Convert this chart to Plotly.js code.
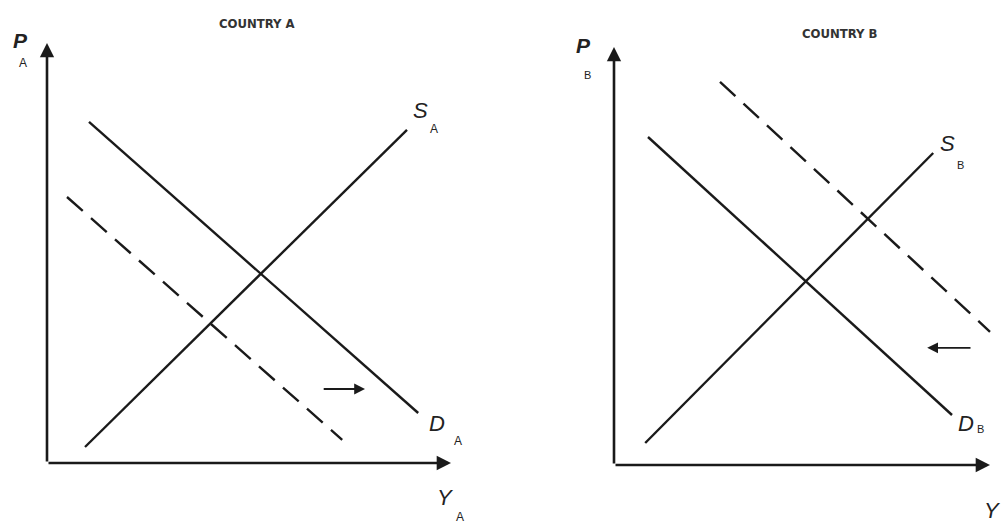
<!DOCTYPE html>
<html>
<head>
<meta charset="utf-8">
<script src="https://cdn.plot.ly/plotly-3.0.1.min.js"></script>
<style>html,body{margin:0;padding:0;background:#fff;}#chart{width:1003px;height:527px;}</style>
</head>
<body>
<div id="chart"></div>
<script>
// Country A (units: quantity Y_A, price P_A)
const supplyA_x = [0.95, 9.0];
const supplyA_y = [0.4, 8.33];
const demandA_x = [1.05, 9.28];
const demandA_y = [8.53, 1.25];
const demandA2_x = [0.5, 7.38];
const demandA2_y = [6.65, 0.58];
const shiftA_x = [6.88, 7.95];
const shiftA_y = [1.85, 1.85];
const axisA_end = [10.1, 10.5];

// Country B
const supplyB_x = [0.78, 7.98];
const supplyB_y = [0.55, 7.8];
const demandB_x = [0.85, 8.45];
const demandB_y = [8.2, 1.25];
const demandB2_x = [2.65, 9.4];
const demandB2_y = [9.58, 3.33];
const shiftB_x = [8.95, 7.83];
const shiftB_y = [2.93, 2.93];
const axisB_end = [9.4, 10.45];

const titles = ["COUNTRY A", "COUNTRY B"];

const lineCol = '#1a1a1a';
function seg(x, y, xa, ya, dash) {
  return {x: x, y: y, xaxis: xa, yaxis: ya, mode: 'lines', type: 'scatter',
    line: {color: lineCol, width: 2.4, dash: dash || 'solid'}, hoverinfo: 'skip', showlegend: false};
}
const data = [
  seg(supplyA_x, supplyA_y, 'x', 'y'),
  seg(demandA_x, demandA_y, 'x', 'y'),
  seg(demandA2_x, demandA2_y, 'x', 'y', '21px,11px'),
  seg(supplyB_x, supplyB_y, 'x2', 'y2'),
  seg(demandB_x, demandB_y, 'x2', 'y2'),
  seg(demandB2_x, demandB2_y, 'x2', 'y2', '21px,11px')
];

function arrow(xr, yr, x0, y0, x1, y1, w, size) {
  return {xref: xr, yref: yr, axref: xr, ayref: yr, x: x1, y: y1, ax: x0, ay: y0,
    showarrow: true, arrowhead: 2, arrowsize: size, arrowwidth: w, arrowcolor: lineCol, text: ''};
}
function px(x, y, text, size, opts) {
  return Object.assign({xref: 'paper', yref: 'paper', x: x / 1003, y: 1 - y / 527,
    text: text, showarrow: false, xanchor: 'center', yanchor: 'middle',
    font: {family: 'Liberation Sans, Arial, sans-serif', size: size, color: '#222'}}, opts || {});
}
const it = (t) => '<i>' + t + '</i>';
const titleFont = {family: 'Liberation Sans Narrow, DejaVu Sans Condensed, sans-serif', size: 13, color: '#333', weight: 600};
const annotations = [
  // axes
  arrow('x', 'y', 0, 0, axisA_end[0], 0, 2.6, 1.1),
  arrow('x', 'y', 0, 0, 0, axisA_end[1], 2.6, 1.1),
  arrow('x2', 'y2', 0, 0, axisB_end[0], 0, 2.6, 1.1),
  arrow('x2', 'y2', 0, 0, 0, axisB_end[1], 2.6, 1.1),
  // shift arrows
  arrow('x', 'y', shiftA_x[0], shiftA_y[0], shiftA_x[1], shiftA_y[1], 1.8, 1.2),
  arrow('x2', 'y2', shiftB_x[0], shiftB_y[0], shiftB_x[1], shiftB_y[1], 1.8, 1.2),
  // titles
  px(257, 24, titles[0], 13, {font: titleFont}),
  px(840, 33, titles[1], 13, {font: titleFont}),
  // Country A labels
  px(20, 40, '<b><i>P</i></b>', 21),
  px(23, 63, 'A', 12),
  px(420, 110, it('S'), 22),
  px(434, 129, 'A', 12),
  px(437, 423, it('D'), 22),
  px(458, 441, 'A', 12),
  px(445, 497, it('Y'), 22),
  px(460, 517, 'A', 12),
  // Country B labels
  px(583, 45, '<b><i>P</i></b>', 21),
  px(587, 75, 'B', 11),
  px(947, 143, it('S'), 22),
  px(960, 165, 'B', 11),
  px(966, 423, it('D'), 22),
  px(980, 429, 'B', 11),
  px(1002, 510, it('Y'), 22, {xanchor: 'right'})
];

const ax = {showgrid: false, zeroline: false, showticklabels: false, ticks: '', showline: false, fixedrange: true};
const layout = {
  width: 1003, height: 527,
  margin: {l: 0, r: 0, t: 0, b: 0},
  paper_bgcolor: '#fff', plot_bgcolor: 'rgba(0,0,0,0)',
  xaxis: Object.assign({domain: [0, 0.5], range: [-1.175, 11.3625]}, ax),
  yaxis: Object.assign({domain: [0, 1], range: [-1.6, 11.575]}, ax),
  xaxis2: Object.assign({domain: [0.5, 1], range: [-2.8125, 9.725], anchor: 'y2'}, ax),
  yaxis2: Object.assign({domain: [0, 1], range: [-1.55, 11.625], anchor: 'x2'}, ax),
  annotations: annotations,
  showlegend: false
};
Plotly.newPlot('chart', data, layout, {displayModeBar: false, staticPlot: true});
</script>
</body>
</html>
